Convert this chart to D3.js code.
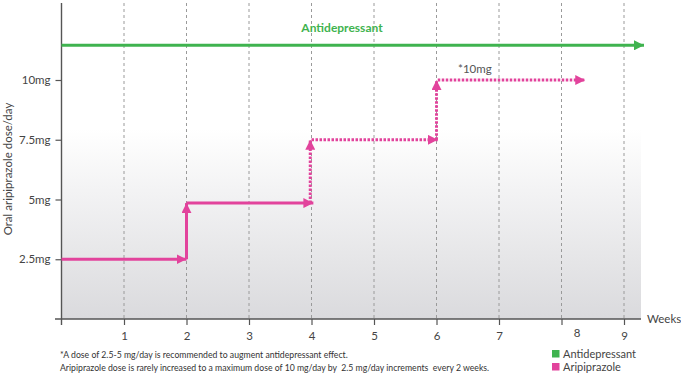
<!DOCTYPE html>
<html>
<head>
<meta charset="utf-8">
<script src="https://cdn.jsdelivr.net/npm/d3@7"></script>
<style>
  body { margin: 0; background: #fff; }
  svg { display: block; font-family: Lato, "Open Sans", sans-serif; }
</style>
</head>
<body>
<div id="container"></div>
<script>
/* DATA */
const weeks = [1, 2, 3, 4, 5, 6, 7, 8, 9]
const doseTicks = [2.5, 5, 7.5, 10]
const doseLabels = ["2.5mg", "5mg", "7.5mg", "10mg"]

// antidepressant runs the whole time
const antidepressant = [[0, 11.45], [9.32, 11.45]]

// aripiprazole titration steps: [week1, dose1, week2, dose2]
const ariSolid = [
  [0, 2.5, 2, 2.5],
  [2, 2.5, 2, 4.85],
  [2, 4.85, 4.03, 4.85]
]
const ariDotted = [
  [3.98, 4.85, 3.98, 7.5],
  [4, 7.5, 6.02, 7.5],
  [6, 7.5, 6, 10],
  [6.02, 10, 8.38, 10]
]

const legendItems = ["Antidepressant", "Aripiprazole"]
const footnotes = [
  "*A dose of 2.5-5 mg/day is recommended to augment antidepressant effect.",
  "Aripiprazole dose is rarely increased to a maximum dose of 10 mg/day by  2.5 mg/day increments  every 2 weeks."
]

/* CONSTANTS */
const width = 681, height = 375
const green = "#3fb34f", pink = "#e2439c", axisColor = "#555"

const svg = d3.select("#container")
  .append("svg")
  .attr("width", width)
  .attr("height", height)

const xScale = d3.scaleLinear().domain([0, 9]).range([61.5, 624])
const yScale = d3.scaleLinear().domain([0, 10]).range([319, 80])

const defs = svg.append("defs")
const grad = defs.append("linearGradient")
  .attr("id", "bg").attr("x1", 0).attr("y1", 0).attr("x2", 0).attr("y2", 1)
grad.append("stop").attr("offset", "0.4").attr("stop-color", "#ffffff")
grad.append("stop").attr("offset", "1").attr("stop-color", "#dadadd")

function arrow(id, color) {
  defs.append("marker")
    .attr("id", id)
    .attr("viewBox", "0 0 10 10")
    .attr("refX", 10).attr("refY", 5)
    .attr("markerUnits", "userSpaceOnUse")
    .attr("markerWidth", 10).attr("markerHeight", 10)
    .attr("orient", "auto")
    .append("path")
    .attr("d", "M0,0 L10,5 L0,10 Z")
    .attr("fill", color)
}
arrow("arrowGreen", green)
arrow("arrowPink", pink)

// background
svg.append("rect")
  .attr("x", xScale(0)).attr("y", 3)
  .attr("width", 641 - xScale(0)).attr("height", yScale(0) - 3)
  .attr("fill", "url(#bg)")

// dashed week gridlines
svg.selectAll("line.grid")
  .data(weeks)
  .join("line")
  .attr("class", "grid")
  .attr("x1", d => xScale(d)).attr("x2", d => xScale(d))
  .attr("y1", 3).attr("y2", yScale(0))
  .attr("stroke", "#9a9a9a")
  .attr("stroke-width", 1)
  .attr("stroke-dasharray", "3,3")

// axes
const xAxis = d3.axisBottom(xScale).tickValues(weeks).tickSize(6).tickPadding(7)
const gx = svg.append("g")
  .attr("class", "x-axis")
  .attr("transform", `translate(0,${yScale(0)})`)
  .call(xAxis)
gx.select(".domain").remove()
gx.selectAll("line").attr("stroke", axisColor).attr("stroke-width", 1.2)
gx.selectAll("text")
  .attr("font-size", 11.5).attr("fill", "#444").attr("font-family", "Lato, sans-serif")
  .filter(d => d === 8)
  .attr("dx", 15).attr("dy", "0.4em")

const yAxis = d3.axisLeft(yScale).tickValues(doseTicks)
  .tickFormat((d, i) => doseLabels[i]).tickSize(6).tickPadding(5)
const gy = svg.append("g")
  .attr("class", "y-axis")
  .attr("transform", `translate(${xScale(0)},0)`)
  .call(yAxis)
gy.select(".domain").remove()
gy.selectAll("line").attr("stroke", axisColor).attr("stroke-width", 1.2)
gy.selectAll("text")
  .attr("font-size", 11.5).attr("fill", "#444").attr("font-family", "Lato, sans-serif")

svg.append("line")
  .attr("x1", 55).attr("x2", 641)
  .attr("y1", yScale(0)).attr("y2", yScale(0))
  .attr("stroke", axisColor).attr("stroke-width", 1.4)
svg.append("line")
  .attr("x1", xScale(0)).attr("x2", xScale(0))
  .attr("y1", 3).attr("y2", yScale(0) + 6)
  .attr("stroke", axisColor).attr("stroke-width", 1.4)

svg.append("text")
  .attr("x", 647).attr("y", yScale(0) + 4)
  .attr("font-size", 11.5).attr("fill", "#444")
  .text("Weeks")

svg.append("text")
  .attr("transform", `translate(12,${(yScale(0) + 3) / 2 + 8}) rotate(-90)`)
  .attr("text-anchor", "middle")
  .attr("font-size", 11.5).attr("fill", "#444")
  .text("Oral aripiprazole dose/day")

// antidepressant arrow
svg.append("line")
  .attr("x1", xScale(antidepressant[0][0])).attr("y1", yScale(antidepressant[0][1]))
  .attr("x2", xScale(antidepressant[1][0])).attr("y2", yScale(antidepressant[1][1]))
  .attr("stroke", green).attr("stroke-width", 3)
  .attr("marker-end", "url(#arrowGreen)")

svg.append("text")
  .attr("x", 342).attr("y", 32)
  .attr("text-anchor", "middle")
  .attr("font-size", 12).attr("font-weight", "bold")
  .attr("fill", green)
  .text("Antidepressant")

// aripiprazole steps
svg.selectAll("line.solid")
  .data(ariSolid)
  .join("line")
  .attr("class", "solid")
  .attr("x1", d => xScale(d[0])).attr("y1", d => yScale(d[1]))
  .attr("x2", d => xScale(d[2])).attr("y2", d => yScale(d[3]))
  .attr("stroke", pink).attr("stroke-width", 3)
  .attr("marker-end", "url(#arrowPink)")

svg.selectAll("line.dotted")
  .data(ariDotted)
  .join("line")
  .attr("class", "dotted")
  .attr("x1", d => xScale(d[0])).attr("y1", d => yScale(d[1]))
  .attr("x2", d => xScale(d[2])).attr("y2", d => yScale(d[3]))
  .attr("stroke", pink).attr("stroke-width", 3)
  .attr("stroke-dasharray", "2.5,1.5")
  .attr("marker-end", "url(#arrowPink)")

svg.append("text")
  .attr("x", 458).attr("y", 73)
  .attr("font-size", 11.5).attr("fill", "#555")
  .text("*10mg")

// footnotes
svg.selectAll("text.note")
  .data(footnotes)
  .join("text")
  .attr("class", "note")
  .attr("x", 60)
  .attr("y", (d, i) => 358 + i * 13)
  .attr("font-size", 8.7).attr("fill", "#333")
  .style("white-space", "pre")
  .text(d => d)

// legend
const legend = svg.selectAll("g.key")
  .data(legendItems)
  .join("g")
  .attr("class", "key")
  .attr("transform", (d, i) => `translate(552,${350 + i * 13})`)
legend.append("rect")
  .attr("width", 7.5).attr("height", 7.5)
  .attr("fill", (d, i) => i === 0 ? green : pink)
legend.append("text")
  .attr("x", 11).attr("y", 7.5)
  .attr("font-size", 11).attr("fill", "#444")
  .text(d => d)
</script>
</body>
</html>
